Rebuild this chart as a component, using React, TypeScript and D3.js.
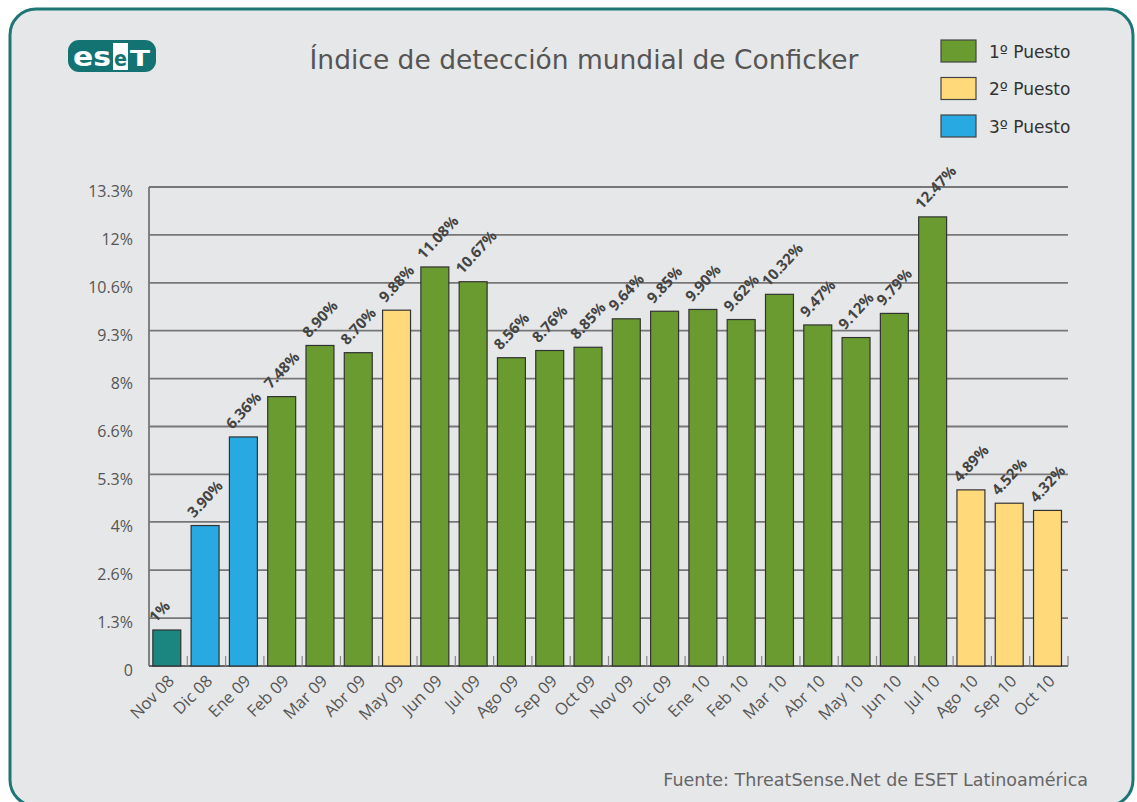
import React from "react";
import * as d3 from "d3";

const months = ["Nov 08","Dic 08","Ene 09","Feb 09","Mar 09","Abr 09","May 09","Jun 09","Jul 09","Ago 09","Sep 09","Oct 09","Nov 09","Dic 09","Ene 10","Feb 10","Mar 10","Abr 10","May 10","Jun 10","Jul 10","Ago 10","Sep 10","Oct 10"];
const values = [1, 3.90, 6.36, 7.48, 8.90, 8.70, 9.88, 11.08, 10.67, 8.56, 8.76, 8.85, 9.64, 9.85, 9.90, 9.62, 10.32, 9.47, 9.12, 9.79, 12.47, 4.89, 4.52, 4.32];
const valueLabels = ["1%","3.90%","6.36%","7.48%","8.90%","8.70%","9.88%","11.08%","10.67%","8.56%","8.76%","8.85%","9.64%","9.85%","9.90%","9.62%","10.32%","9.47%","9.12%","9.79%","12.47%","4.89%","4.52%","4.32%"];
const ranks = [0, 3, 3, 1, 1, 1, 2, 1, 1, 1, 1, 1, 1, 1, 1, 1, 1, 1, 1, 1, 1, 2, 2, 2];
const tickValues = [0, 1.33, 2.66, 4, 5.32, 6.65, 7.98, 9.31, 10.64, 11.97, 13.3];
const tickLabels = ["0", "1.3%", "2.6%", "4%", "5.3%", "6.6%", "8%", "9.3%", "10.6%", "12%", "13.3%"];
const legendLabels = ["1º Puesto", "2º Puesto", "3º Puesto"];

const rankColors: Record<number, string> = { 0: "#1b8680", 1: "#6a9b30", 2: "#ffd97a", 3: "#29a9e1" };

export default function App() {
  const W = 1137, H = 802;
  const left = 149, right = 1068, top = 187, bottom = 666;
  const x = d3.scaleBand<string>().domain(months).range([left, right]).padding(0);
  const y = d3.scaleLinear().domain([0, 13.3]).range([bottom, top]);
  const bw = x.bandwidth();
  const barW = bw * 0.73;
  const barOff = bw * 0.1;
  const gray = "#555";
  const labelFont = "'Open Sans', 'Noto Sans', sans-serif";
  const verdana = "'DejaVu Sans', Verdana, sans-serif";

  return (
    <svg width={W} height={H} style={{ position: "absolute", left: 0, top: 0, display: "block" }}>
      <rect x={0} y={0} width={W} height={H} fill="#ffffff" />
      <rect x={10} y={9} width={1123} height={797} rx={26} ry={26} fill="#e6e7e8" stroke="#1d7675" strokeWidth={3} />

      {/* ESET logo */}
      <g>
        <rect x={68} y={40} width={88} height={32} rx={11} fill="#137272" />
        <rect x={113} y={43} width={15} height={27} fill="#ffffff" />
        <text x={73} y={66} fill="#ffffff" fontFamily={verdana} fontWeight="bold" fontSize={27} textLength={38} lengthAdjust="spacingAndGlyphs">es</text>
        <text x={114} y={66} fill="#137272" fontFamily={verdana} fontWeight="bold" fontSize={22} textLength={13} lengthAdjust="spacingAndGlyphs">e</text>
        <text x={130} y={66} fill="#ffffff" fontFamily={verdana} fontWeight="bold" fontSize={22} textLength={20} lengthAdjust="spacingAndGlyphs">T</text>
      </g>

      {/* Title */}
      <text x={584} y={69} textAnchor="middle" fill="#555" fontFamily={verdana} fontSize={26.5}>Índice de detección mundial de Conficker</text>

      {/* Legend */}
      {legendLabels.map((l, i) => (
        <g key={l}>
          <rect x={941} y={40 + i * 37.5} width={35} height={22} fill={rankColors[i + 1]} stroke="#444" strokeWidth={1.2} />
          <text x={989} y={57.5 + i * 37.5} fill="#333" fontFamily={verdana} fontSize={17}>{l}</text>
        </g>
      ))}

      {/* Grid */}
      {tickValues.map((v, i) => (
        <g key={i}>
          {i > 0 && <line x1={left} x2={right} y1={y(v)} y2={y(v)} stroke="#777" strokeWidth={1.8} />}
          <text x={133} y={y(v) + 6} textAnchor="end" dominantBaseline="middle" fill={gray} fontFamily={labelFont} fontSize={16}>{tickLabels[i]}</text>
        </g>
      ))}
      <line x1={left} x2={left} y1={top} y2={bottom} stroke="#777" strokeWidth={1.8} />
      <line x1={left} x2={right} y1={bottom} y2={bottom} stroke="#666" strokeWidth={1.8} />
      {months.map((m) => (
        <line key={"t" + m} x1={(x(m) as number) + bw} x2={(x(m) as number) + bw} y1={bottom} y2={bottom - 10} stroke="#888" strokeWidth={1.2} />
      ))}

      {/* Bars */}
      {months.map((m, i) => (
        <rect key={m} x={(x(m) as number) + barOff} y={y(values[i])} width={barW} height={bottom - y(values[i])} fill={rankColors[ranks[i]]} stroke="#333" strokeWidth={1.2} />
      ))}

      {/* Value labels */}
      {months.map((m, i) => {
        const lx = (x(m) as number) + barOff + 3;
        const ly = y(values[i]) - 7;
        return (
          <text key={"v" + m} transform={`translate(${lx},${ly}) rotate(-47)`} fill="#444" fontFamily="'Liberation Sans Narrow', 'Open Sans', sans-serif" fontWeight="bold" fontSize={15}>{valueLabels[i]}</text>
        );
      })}

      {/* X labels */}
      {months.map((m) => {
        const cx = (x(m) as number) + bw / 2 + 7;
        return (
          <text key={"x" + m} transform={`translate(${cx},${682}) rotate(-45)`} textAnchor="end" fill={gray} fontFamily={labelFont} fontSize={16.5}>{m}</text>
        );
      })}

      {/* Footer */}
      <text x={1088} y={786} textAnchor="end" fill="#666" fontFamily={verdana} fontSize={17.5}>Fuente: ThreatSense.Net de ESET Latinoamérica</text>
    </svg>
  );
}
